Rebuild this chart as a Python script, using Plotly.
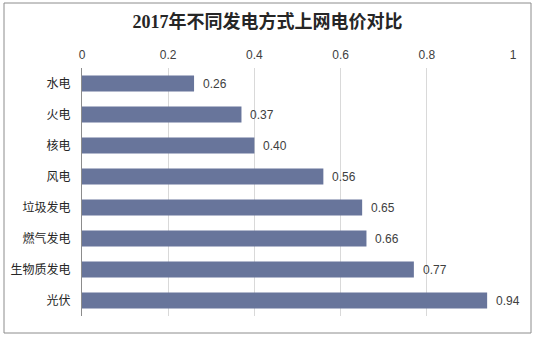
import plotly.graph_objects as go

categories = ["水电", "火电", "核电", "风电", "垃圾发电", "燃气发电", "生物质发电", "光伏"]
values = [0.26, 0.37, 0.40, 0.56, 0.65, 0.66, 0.77, 0.94]
value_labels = ["0.26", "0.37", "0.40", "0.56", "0.65", "0.66", "0.77", "0.94"]
tick_vals = [0, 0.2, 0.4, 0.6, 0.8, 1]
tick_text = ["0", "0.2", "0.4", "0.6", "0.8", "1"]

W, H = 535, 339
ml, mr, mt, mb = 82, 22, 68, 23
pw, ph = W - ml - mr, H - mt - mb

def px(x):
    return (x - ml) / pw

def py(y):
    return (H - mb - y) / ph

fig = go.Figure(go.Bar(
    x=values, y=categories, orientation="h",
    marker=dict(color="#68759B", line=dict(width=0)),
    width=0.52,
    hoverinfo="x+y",
))

for c, v, t in zip(categories, values, value_labels):
    fig.add_annotation(x=v, y=c, text=t, xanchor="left", xshift=7, showarrow=False,
                       font=dict(family="Arial, Liberation Sans", size=12, color="#404040"))

fig.update_layout(
    width=W, height=H,
    margin=dict(l=ml, r=mr, t=mt, b=mb),
    paper_bgcolor="white", plot_bgcolor="white",
    showlegend=False,
    title=dict(text="<b>2017年不同发电方式上网电价对比</b>", x=0.5, xanchor="center",
               y=1 - 22 / H, yanchor="middle",
               font=dict(family="Liberation Serif, Noto Sans CJK SC", size=18, color="#262626")),
    xaxis=dict(side="top", range=[0, 1], tickvals=tick_vals, ticktext=tick_text,
               showgrid=True, gridcolor="#D9D9D9", gridwidth=1, zeroline=False,
               showline=False, ticks="", ticklabelstandoff=6,
               tickfont=dict(family="Arial, Liberation Sans", size=12, color="#404040")),
    yaxis=dict(autorange="reversed", showline=True, linecolor="#8C8C8C", linewidth=1,
               ticks="", showgrid=False, ticklabelstandoff=8,
               tickfont=dict(family="Noto Sans CJK SC", size=12, color="#262626")),
    bargap=0.48,
    shapes=[dict(type="rect", xref="paper", yref="paper",
                 x0=px(4), x1=px(531), y0=py(333), y1=py(3),
                 line=dict(color="#8C8C8C", width=1), fillcolor="rgba(0,0,0,0)", layer="below")],
)

fig.write_html("out.html")
